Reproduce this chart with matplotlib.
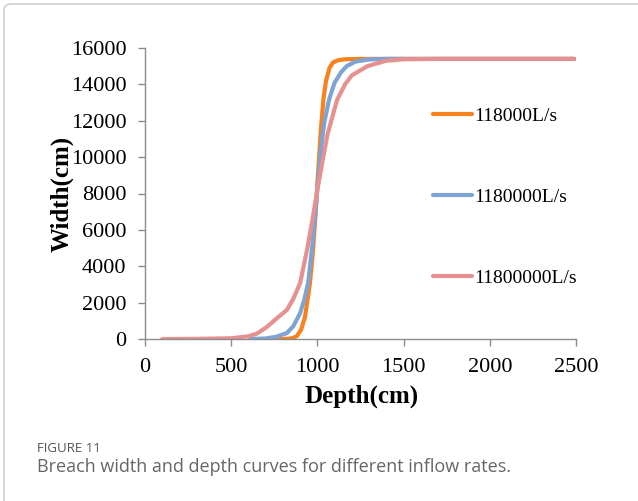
import matplotlib
matplotlib.use("Agg")
import matplotlib.pyplot as plt
from matplotlib.patches import FancyBboxPatch

# datos (profundidad en cm, ancho en cm)
depth_118k = [740, 800, 850, 880, 905, 928, 945, 957, 975, 990, 1005, 1020, 1035, 1050,
              1070, 1090, 1120, 1160, 1250, 1500, 2000, 2490]
width_118k = [0, 0, 30, 150, 500, 1200, 2300, 3100, 4900, 7000, 9300, 11500, 13200, 14200,
              14900, 15200, 15330, 15380, 15400, 15400, 15400, 15400]

depth_1180k = [610, 700, 760, 823, 860, 900, 925, 946, 968, 985, 1000, 1020, 1040, 1067,
               1100, 1140, 1170, 1220, 1300, 1400, 2000, 2490]
width_1180k = [0, 30, 120, 330, 700, 1430, 2200, 3080, 4900, 6600, 8300, 10400, 11900, 13140,
               14100, 14700, 15000, 15250, 15370, 15400, 15400, 15400]

depth_11800k = [100, 300, 500, 600, 650, 707, 760, 823, 860, 900, 940, 970, 1000, 1030,
                1060, 1114, 1160, 1200, 1290, 1400, 1500, 1700, 2490]
width_11800k = [0, 10, 40, 150, 300, 660, 1100, 1600, 2200, 3080, 4900, 6500, 8200, 9800,
                11300, 13140, 14000, 14500, 15000, 15300, 15380, 15400, 15400]

labels = ["118000L/s", "1180000L/s", "11800000L/s"]
colores = ["#F7821E", "#7DA4D5", "#E69191"]

x_ticks = [0, 500, 1000, 1500, 2000, 2500]
y_ticks = [0, 2000, 4000, 6000, 8000, 10000, 12000, 14000, 16000]

fig = plt.figure(figsize=(6.38, 5.01), dpi=100)

# marco redondeado del pie de figura
marco = FancyBboxPatch((4 / 638, -0.2), 1.2, 1.2 - 4 / 501,
                       boxstyle="round,pad=0,rounding_size=0.012",
                       transform=fig.transFigure, facecolor="none",
                       edgecolor="#c8c8c8", linewidth=1.0, zorder=0)
fig.patches.append(marco)

ax = fig.add_axes([145 / 638, 1 - 339 / 501, 431 / 638, 291 / 501])
ax.set_facecolor("none")

serif = "Liberation Serif"
for d, w, lab, c in zip([depth_118k, depth_1180k, depth_11800k],
                        [width_118k, width_1180k, width_11800k], labels, colores):
    ax.plot(d, w, color=c, lw=3.0, label=lab, solid_capstyle="round")

ax.set_xlim(0, 2500)
ax.set_ylim(0, 16000)
ax.set_xticks(x_ticks)
ax.set_yticks(y_ticks)
ax.tick_params(axis="both", direction="out", length=5, color="#8c8c8c", width=1,
               labelsize=16, labelcolor="black", pad=8.5)
for t in ax.get_xticklabels() + ax.get_yticklabels():
    t.set_fontfamily(serif)

for s in ["top", "right"]:
    ax.spines[s].set_visible(False)
for s in ["left", "bottom"]:
    ax.spines[s].set_color("#8c8c8c")
    ax.spines[s].set_linewidth(1)

ax.set_xlabel("Depth(cm)", fontfamily=serif, fontsize=18, fontweight="bold")
ax.set_ylabel("Width(cm)", fontfamily=serif, fontsize=18, fontweight="bold")
ax.xaxis.set_label_coords(0.503, -0.155)
ax.yaxis.set_label_coords(-0.165, 0.5)

leg = ax.legend(loc="upper left", bbox_to_anchor=(0.668, 0.795), frameon=False,
                prop={"family": serif, "size": 14}, labelspacing=3.25,
                handlelength=2.0, handletextpad=0.1, borderpad=0, borderaxespad=0)
for h in leg.get_lines():
    h.set_linewidth(3.0)

fig.text(37 / 638, 1 - 448 / 501, "FIGURE 11", fontfamily="Open Sans", fontsize=9.5,
         color="#555555", va="center", ha="left")
fig.text(37 / 638, 1 - 467 / 501, "Breach width and depth curves for different inflow rates.",
         fontfamily="Open Sans", fontsize=13, color="#666666", va="center", ha="left")

fig.savefig("out.png", dpi=100)
